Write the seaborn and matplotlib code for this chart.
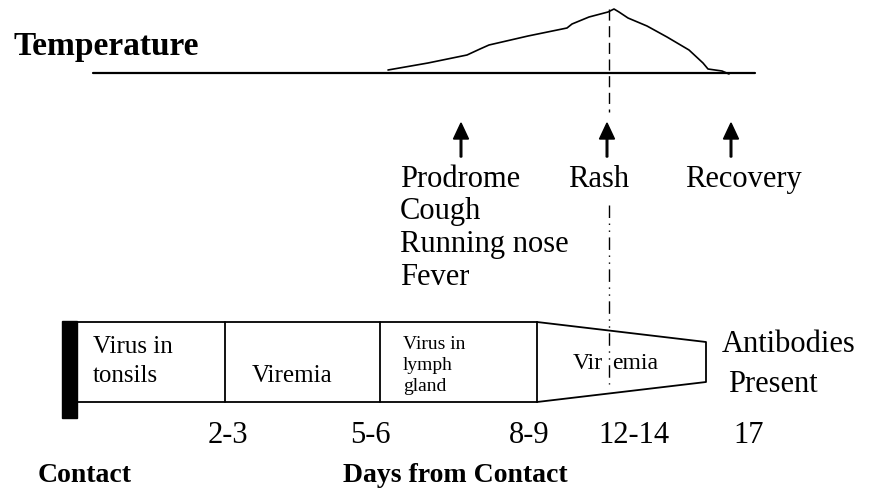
import numpy as np
import matplotlib
matplotlib.use("Agg")
import matplotlib.pyplot as plt
import seaborn as sns
from matplotlib.patches import Rectangle

sns.set_theme(style='white')
plt.rcParams['font.family'] = ['Liberation Serif', 'DejaVu Serif']
plt.rcParams['text.color'] = 'black'

# temperature curve (schematic units, y grows downwards)
temp_x = [388, 428, 467, 480, 489, 528, 567, 572, 589, 608, 614, 619, 628, 647, 667, 689, 703, 708, 722, 729]
temp_y = [70, 63, 55, 49, 45, 36, 28, 24, 17, 12, 9, 12, 18, 26, 37, 50, 63, 69, 71, 74]

# phases of the infection along the timeline
stage_edges = [77, 225, 380, 537]
stage_end = 706
stage_labels = ['Virus in\ntonsils', 'Viremia', 'Virus in\nlymph\ngland', 'Viremia']

# clinical events with arrows
events = ['Prodrome', 'Rash', 'Recovery']
event_x = [461, 607, 731]
prodrome_signs = ['Cough', 'Running nose', 'Fever']

# day labels under the timeline
day_labels = ['2-3', '5-6', '8-9', '12-14', '17']
day_x = [228, 370, 529, 634, 749]

fig = plt.figure(figsize=(8.69, 4.90), dpi=100)
ax = fig.add_axes([0, 0, 1, 1])
ax.set_xlim(0, 869)
ax.set_ylim(490, 0)
ax.axis('off')

big = 22
# temperature
ax.text(13, 55, 'Temperature', fontsize=24, fontweight='bold', va='baseline')
ax.plot([93, 755], [73, 73], color='black', lw=1.6)
sns.lineplot(x=temp_x, y=temp_y, ax=ax, color='black', lw=1.2, sort=False, estimator=None)

# rash line
rash_x = event_x[1] + 1.5
ax.plot([rash_x, rash_x], [9, 112], color='black', lw=1.0, linestyle=(0, (8, 4)))
ax.plot([rash_x, rash_x], [205, 384], color='black', lw=1.0, linestyle=(0, (9, 4, 1, 4, 1, 4)))

# event arrows and labels
event_text_x = [400, 568, 685]
for ex, lab, tx in zip(event_x, events, event_text_x):
    ax.arrow(ex, 157, 0, -34, width=1.6, head_width=15, head_length=16,
             length_includes_head=True, color='black')
    ax.text(tx, 187, lab, fontsize=big, va='baseline')
for i, s in enumerate(prodrome_signs):
    ax.text(400, 219 + 33 * i, s, fontsize=big, va='baseline')

# timeline box
top, bot = 322, 402
ax.add_patch(Rectangle((62, 321), 14.5, 97, color='black'))
ax.plot([stage_edges[0], stage_edges[-1]], [top, top], color='black', lw=1.3)
ax.plot([stage_edges[0], stage_edges[-1]], [bot, bot], color='black', lw=1.3)
for e in stage_edges[1:]:
    ax.plot([e, e], [top, bot], color='black', lw=1.3)
ax.plot([stage_edges[-1], stage_end, stage_end, stage_edges[-1]],
        [top, 342, 382, bot], color='black', lw=1.3)

# stage texts
ax.text(93, 353, 'Virus in', fontsize=18, va='baseline')
ax.text(93, 382, 'tonsils', fontsize=18, va='baseline')
ax.text(292, 382, stage_labels[1], fontsize=18, va='baseline', ha='center')
for i, s in enumerate(stage_labels[2].split('\n')):
    ax.text(403, 349 + 21 * i, s, fontsize=14, va='baseline')
word = stage_labels[3]
ax.text(603, 369, word[:3], fontsize=17, va='baseline', ha='right')
ax.text(612, 369, word[3:], fontsize=17, va='baseline', ha='left')

ax.text(722, 352, 'Antibodies', fontsize=big, va='baseline')
ax.text(728, 392, 'Present', fontsize=big, va='baseline')

# days
for dx, lab in zip(day_x, day_labels):
    ax.text(dx, 443, lab, fontsize=big, va='baseline', ha='center')
ax.text(38, 482, 'Contact', fontsize=20, fontweight='bold', va='baseline')
ax.text(343, 482, 'Days from Contact', fontsize=20, fontweight='bold', va='baseline')

fig.savefig('out.png', dpi=100, facecolor='white')
